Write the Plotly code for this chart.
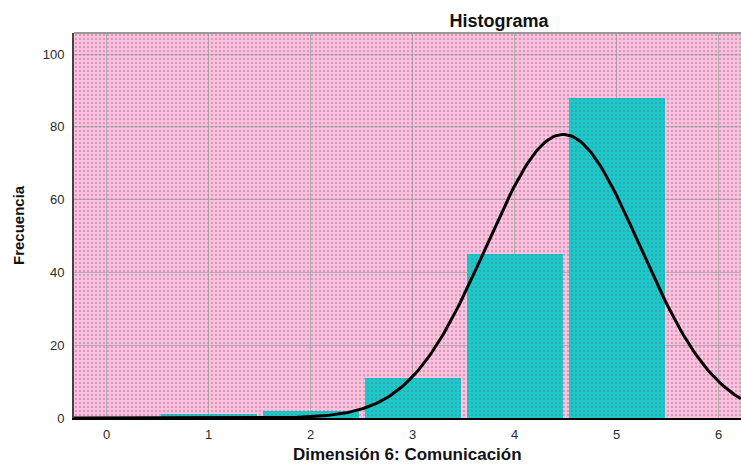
import numpy as np
import plotly.graph_objects as go

# Frequencies per score value
scores = [1, 2, 3, 4, 5]
counts = [1, 2, 11, 45, 88]
x_ticks = [0, 1, 2, 3, 4, 5, 6]
y_ticks = [0, 20, 40, 60, 80, 100]

PINK = "#FFC0E0"
TEAL = "#1EC8C8"

x_lo, x_hi = -0.32, 6.22
y_hi = 105.8

# normal curve fitted to the data (as SPSS does)
vals = np.repeat(scores, counts)
n = len(vals)
mu = vals.mean()
sd = vals.std(ddof=1)
xc = np.linspace(x_lo, x_hi, 300)
yc = n * 1.0 * np.exp(-0.5 * ((xc - mu) / sd) ** 2) / (sd * np.sqrt(2 * np.pi))

fig = go.Figure()

# dotted texture over the pink background
fig.add_trace(go.Bar(
    x=[(x_lo + x_hi) / 2], y=[y_hi], width=[x_hi - x_lo],
    marker=dict(color="rgba(0,0,0,0)", line=dict(width=0),
                pattern=dict(shape=".", size=4, solidity=0.12,
                             fgcolor="#8a7080", bgcolor="rgba(0,0,0,0)",
                             fillmode="replace")),
    hoverinfo="skip", showlegend=False))

fig.add_trace(go.Bar(
    x=scores, y=counts, width=0.94,
    marker=dict(color=TEAL, line=dict(width=0),
                pattern=dict(shape=".", size=4, solidity=0.12,
                             fgcolor="#3a8898", bgcolor=TEAL,
                             fillmode="replace")),
    showlegend=False))

fig.add_trace(go.Scatter(
    x=xc, y=yc, mode="lines", line=dict(color="black", width=3),
    cliponaxis=False, showlegend=False))

fig.add_shape(type="line", xref="paper", yref="paper", x0=0, x1=1, y0=1, y1=1,
              line=dict(color="#999999", width=2))

fig.update_layout(
    width=741, height=464,
    margin=dict(l=74, r=0, t=33, b=46, autoexpand=False),
    paper_bgcolor="white", plot_bgcolor=PINK,
    barmode="overlay", bargap=0,
    font=dict(family="Liberation Sans, Arial, sans-serif", size=13, color="#2a2a2a"),
    title=dict(text="<b>Histograma</b>", x=499 / 741, xanchor="center",
               y=1 - 21 / 464, yanchor="middle",
               font=dict(size=18, color="#111111")),
    xaxis=dict(range=[x_lo, x_hi], tickvals=x_ticks, showgrid=True,
               gridcolor="#b8acb4", gridwidth=1, zeroline=False,
               showline=True, linecolor="black", linewidth=2,
               ticks="", ticklabelstandoff=3, automargin=False),
    yaxis=dict(range=[0, y_hi], tickvals=y_ticks, showgrid=True,
               gridcolor="#b8acb4", gridwidth=1, zeroline=False,
               showline=True, linecolor="#444444", linewidth=2,
               ticks="", ticklabelstandoff=5, automargin=False),
    annotations=[
        dict(text="<b>Frecuencia</b>", textangle=-90,
             x=(18 - 74) / 667, xref="paper", xanchor="center",
             y=(464 - 46 - 225) / 385, yref="paper", yanchor="middle",
             showarrow=False, font=dict(size=15, color="#111111")),
        dict(text="<b>Dimensión 6: Comunicación</b>", x=(407 - 74) / 667, xref="paper",
             xanchor="center", y=-(455 - 418) / 385, yref="paper", yanchor="middle",
             showarrow=False, font=dict(size=17, color="#111111")),
    ],
)

fig.write_html("out.html", config={"displayModeBar": False},
               post_script="document.body.style.margin='0px';")
